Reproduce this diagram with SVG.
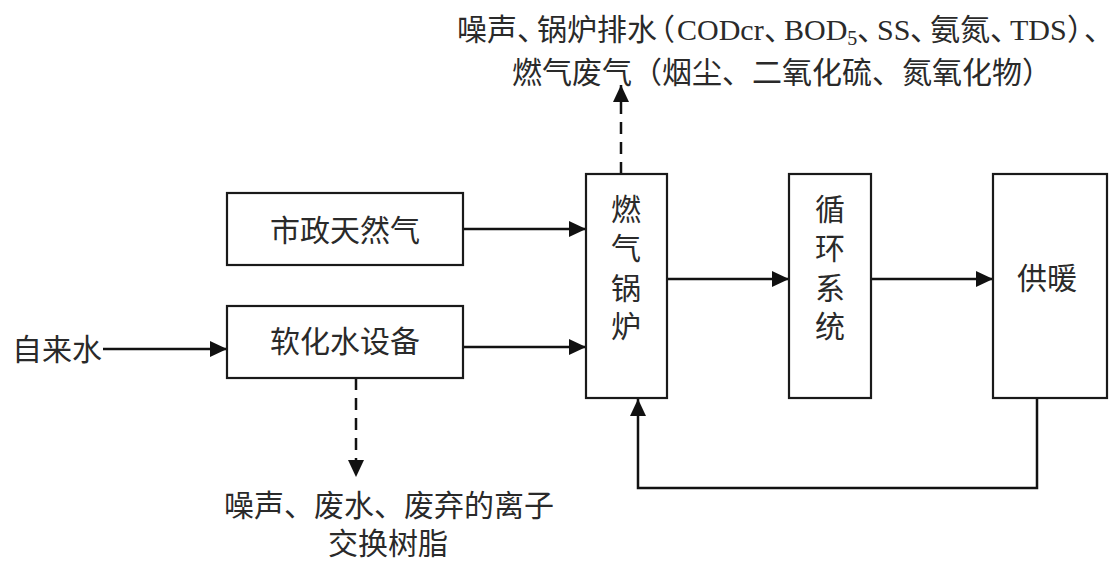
<svg xmlns="http://www.w3.org/2000/svg" width="1116" height="562" viewBox="0 0 1116 562">
<defs>
<style>
.box{fill:#fff;stroke:#1a1a1a;stroke-width:2.2}
.ln{fill:none;stroke:#111;stroke-width:2.5}
.dash{fill:none;stroke:#111;stroke-width:2.5;stroke-dasharray:12 8}
.t{font-family:"Liberation Serif","Noto Sans CJK SC",serif;font-size:30px;fill:#2a2a2a}
.c{text-anchor:middle}
</style>
<marker id="ah" markerUnits="userSpaceOnUse" markerWidth="17" markerHeight="16" refX="17" refY="8" orient="auto">
<path d="M0,0 L17,8 L0,16 z" fill="#111"/>
</marker>
</defs>
<rect width="1116" height="562" fill="#fff"/>

<g id="connectors">
<line class="ln" x1="103" y1="349" x2="227" y2="349" marker-end="url(#ah)"/>
<line class="ln" x1="463" y1="229" x2="586" y2="229" marker-end="url(#ah)"/>
<line class="ln" x1="463" y1="347" x2="586" y2="347" marker-end="url(#ah)"/>
<line class="ln" x1="667" y1="279" x2="789" y2="279" marker-end="url(#ah)"/>
<line class="ln" x1="871" y1="279" x2="993" y2="279" marker-end="url(#ah)"/>
<path class="ln" d="M1037,398 V488 H638 V399" marker-end="url(#ah)"/>
<line class="dash" x1="621" y1="174" x2="621" y2="85" marker-end="url(#ah)"/>
<line class="dash" x1="356" y1="378" x2="356" y2="477" marker-end="url(#ah)"/>
</g>

<g id="gas">
<rect class="box" x="227" y="193" width="236" height="72"/>
<text class="t c" x="345" y="241">市政天然气</text>
</g>
<g id="softener">
<rect class="box" x="227" y="306" width="236" height="72"/>
<text class="t c" x="345" y="352">软化水设备</text>
</g>
<g id="tapwater">
<text class="t" x="12" y="360">自来水</text>
</g>
<g id="boiler">
<rect class="box" x="586" y="174" width="81" height="224"/>
<text class="t c" x="626" y="220">燃</text>
<text class="t c" x="626" y="259">气</text>
<text class="t c" x="626" y="299">锅</text>
<text class="t c" x="626" y="337">炉</text>
</g>
<g id="circulation">
<rect class="box" x="789" y="174" width="82" height="224"/>
<text class="t c" x="830" y="220">循</text>
<text class="t c" x="830" y="259">环</text>
<text class="t c" x="830" y="299">系</text>
<text class="t c" x="830" y="337">统</text>
</g>
<g id="heating">
<rect class="box" x="993" y="174" width="114" height="224"/>
<text class="t c" x="1047" y="289">供暖</text>
</g>
<g id="boiler-emissions">
<text class="t" y="40"><tspan x="457">噪声</tspan><tspan x="517">、</tspan><tspan x="537">锅炉排水</tspan><tspan x="645">（</tspan><tspan x="677">CODcr</tspan><tspan x="764">、</tspan><tspan x="784">BOD</tspan><tspan font-size="20" dy="5">5</tspan><tspan x="857" dy="-5">、</tspan><tspan x="877">SS</tspan><tspan x="910">、</tspan><tspan x="930">氨氮</tspan><tspan x="990">、</tspan><tspan x="1010">TDS</tspan><tspan x="1067">）</tspan><tspan x="1084">、</tspan></text>
<text class="t" x="512" y="83">燃气废气（烟尘、二氧化硫、氮氧化物）</text>
</g>
<g id="softener-emissions">
<text class="t c" x="389" y="516">噪声、废水、废弃的离子</text>
<text class="t c" x="388" y="554">交换树脂</text>
</g>
</svg>
